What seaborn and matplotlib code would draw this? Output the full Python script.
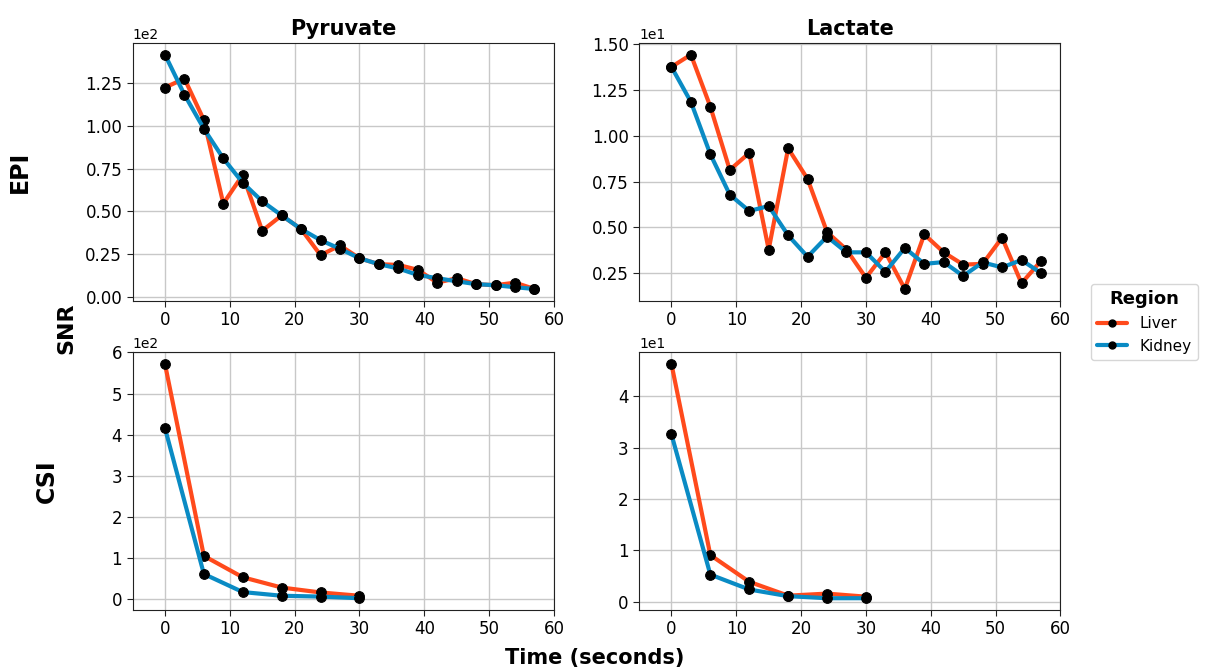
import matplotlib
matplotlib.use('Agg')
import matplotlib.pyplot as plt
import seaborn as sns
import pandas as pd
from matplotlib.lines import Line2D

sns.set_style("ticks", {"axes.grid": True})
plt.rcParams['text.color'] = 'black'
plt.rcParams['xtick.color'] = 'black'
plt.rcParams['ytick.color'] = 'black'
plt.rcParams['axes.labelcolor'] = 'black'

# Time points (seconds)
epi_time = [0, 3, 6, 9, 12, 15, 18, 21, 24, 27, 30, 33, 36, 39, 42, 45, 48, 51, 54, 57]
csi_time = [0, 6, 12, 18, 24, 30]

# EPI SNR
epi_pyr_liver = [122.5, 127.8, 103.5, 54.5, 71.4, 38.6, 47.6, 39.6, 24.3, 30.0,
                 22.5, 19.0, 18.6, 15.7, 8.2, 10.8, 7.3, 6.7, 8.2, 4.5]
epi_pyr_kidney = [141.8, 118.4, 98.4, 81.0, 66.7, 55.9, 47.6, 39.6, 33.1, 28.0,
                  22.5, 19.0, 16.5, 12.7, 10.8, 9.0, 7.3, 6.7, 5.5, 4.5]
epi_lac_liver = [13.76, 14.43, 11.59, 8.13, 9.06, 3.78, 9.31, 7.64, 4.74, 3.78,
                 2.24, 3.63, 1.63, 4.61, 3.63, 2.96, 3.00, 4.43, 1.94, 3.16]
epi_lac_kidney = [13.76, 11.85, 8.99, 6.78, 5.89, 6.16, 4.56, 3.39, 4.49, 3.63,
                  3.63, 2.57, 3.87, 3.00, 3.10, 2.34, 3.08, 2.81, 3.21, 2.50]

# CSI SNR
csi_pyr_liver = [572, 105, 53, 28, 16, 8]
csi_pyr_kidney = [416, 61, 17, 8, 6, 2]
csi_lac_liver = [46.3, 9.1, 3.9, 1.2, 1.6, 1.0]
csi_lac_kidney = [32.6, 5.3, 2.4, 1.1, 0.7, 0.7]

regions = ['Liver', 'Kidney']
palette = {'Liver': '#ff4a1c', 'Kidney': '#0a8bc4'}


def make_df(time, liver, kidney):
    return pd.DataFrame({
        'Time': list(time) + list(time),
        'SNR': list(liver) + list(kidney),
        'Region': ['Liver'] * len(liver) + ['Kidney'] * len(kidney),
    })


panels = [
    (make_df(epi_time, epi_pyr_liver, epi_pyr_kidney), 0, 0),
    (make_df(epi_time, epi_lac_liver, epi_lac_kidney), 0, 1),
    (make_df(csi_time, csi_pyr_liver, csi_pyr_kidney), 1, 0),
    (make_df(csi_time, csi_lac_liver, csi_lac_kidney), 1, 1),
]

fig, axes = plt.subplots(2, 2, figsize=(12.05, 6.71), dpi=100)
plt.subplots_adjust(left=0.110, right=0.880, top=0.936, bottom=0.091,
                    wspace=0.202, hspace=0.2)

for df, r, c in panels:
    ax = axes[r, c]
    sns.lineplot(data=df, x='Time', y='SNR', hue='Region', hue_order=regions,
                 palette=palette, marker='o', markersize=7,
                 markerfacecolor='black', markeredgecolor='black',
                 linewidth=3, legend=False, ax=ax)
    ax.set_xlim(-5, 60)
    ax.set_xticks([0, 10, 20, 30, 40, 50, 60])
    ax.ticklabel_format(axis='y', style='sci', scilimits=(0, 0))
    ax.yaxis.get_offset_text().set_fontsize(10)
    ax.tick_params(labelsize=12, length=4, color='#222222')
    ax.grid(True, color='#c8c8c8', linewidth=1)
    for s in ax.spines.values():
        s.set_color('#222222')
    ax.set_xlabel('')
    ax.set_ylabel('')

axes[0, 0].set_title('Pyruvate', fontsize=15, fontweight='bold')
axes[0, 1].set_title('Lactate', fontsize=15, fontweight='bold')
axes[0, 0].set_ylabel('EPI', fontsize=17, fontweight='bold', labelpad=38)
axes[1, 0].set_ylabel('CSI', fontsize=17, fontweight='bold', labelpad=38)

fig.text(66 / 1205, 1 - 328 / 671, 'SNR', rotation=90, fontsize=16,
         fontweight='bold', ha='center', va='center')
fig.text(595 / 1205, 1 - 658 / 671, 'Time (seconds)', fontsize=15,
         fontweight='bold', ha='center', va='center')

handles = [Line2D([0], [0], color=palette[k], linewidth=3, marker='o',
                  markersize=5, markerfacecolor='black',
                  markeredgecolor='black') for k in regions]
leg = fig.legend(handles, regions, title='Region', loc='center left',
                 bbox_to_anchor=(1083 / 1205, 1 - 322 / 671), fontsize=11,
                 title_fontproperties={'weight': 'bold', 'size': 13})

plt.savefig('out.png', dpi=100)
